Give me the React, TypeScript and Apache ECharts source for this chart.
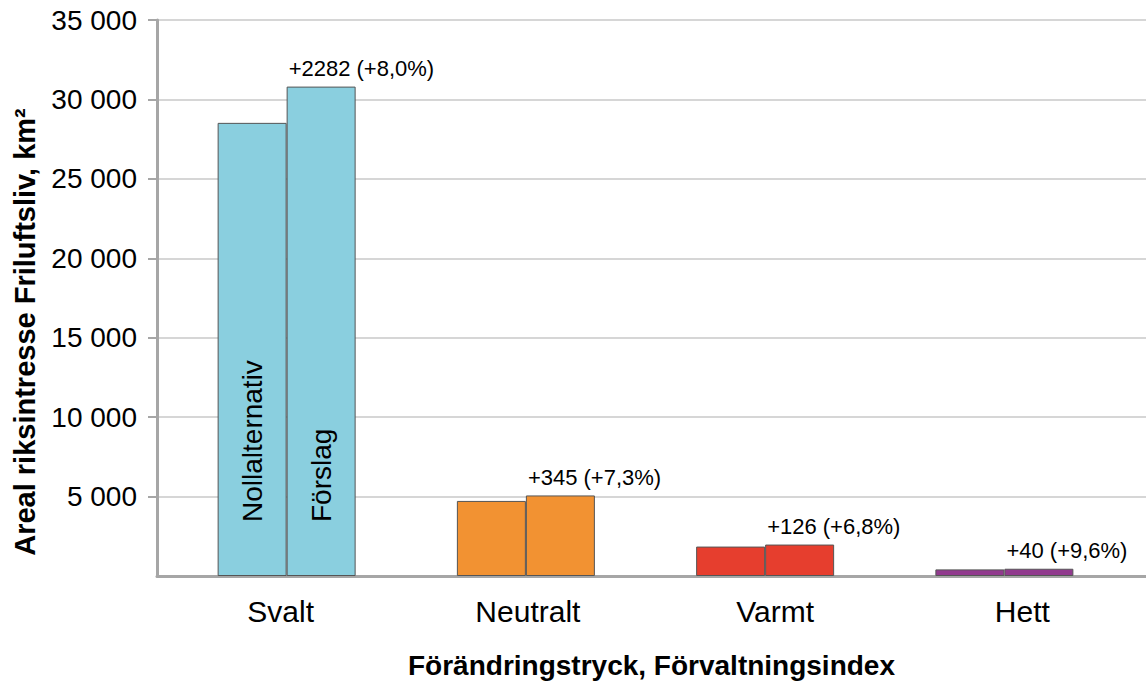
import React, { useEffect, useRef } from "react";
import * as echarts from "echarts";

const categories = ["Svalt", "Neutralt", "Varmt", "Hett"];
const nollValues = [28525, 4726, 1853, 417];
const forslagValues = [30807, 5071, 1979, 457];
const changeLabels = ["+2282 (+8,0%)", "+345 (+7,3%)", "+126 (+6,8%)", "+40 (+9,6%)"];
const barColors = ["#8ACFDF", "#F29232", "#E63E2E", "#913A8E"];
const yMax = 35000;
const yInterval = 5000;
const yTitle = "Areal riksintresse Friluftsliv, km²";
const xTitle = "Förändringstryck, Förvaltningsindex";

const FONT = "Liberation Sans, Arial, sans-serif";

export default function App() {
  const ref = useRef<HTMLDivElement>(null);
  useEffect(() => {
    if (!ref.current) return;
    const chart = echarts.init(ref.current, null, { renderer: "svg" });
    const border = { borderColor: "#555555", borderWidth: 1 };
    const innerLabel = (text: string) => ({
      show: true,
      formatter: text,
      position: "insideBottom",
      distance: 54,
      rotate: 90,
      align: "left",
      verticalAlign: "middle",
      fontSize: 28,
      fontFamily: FONT,
      color: "#000",
    });
    const nollData = nollValues.map((v, i) => ({
      value: v,
      itemStyle: { color: barColors[i], ...border },
      label: i === 0 ? innerLabel("Nollalternativ") : { show: false },
    }));
    const forslagData = forslagValues.map((v, i) => ({
      value: v,
      itemStyle: { color: barColors[i], ...border },
      label: i === 0 ? innerLabel("Förslag") : { show: false },
    }));
    const topLabelData = changeLabels.map((t) => ({
      value: 0,
      label: {
        show: true,
        formatter: t,
        position: [2, -7],
        align: "left",
        verticalAlign: "bottom",
        fontSize: 22,
        fontFamily: FONT,
        color: "#000",
      },
    }));
    chart.setOption({
      animation: false,
      textStyle: { fontFamily: FONT },
      grid: [
        { left: 157, right: 0, top: 20, bottom: 112 },
        { left: 167, right: 22, top: 20, bottom: 112 },
      ],
      graphic: [
        {
          type: "text",
          x: 25,
          y: 332,
          rotation: Math.PI / 2,
          style: {
            text: yTitle,
            fontSize: 29,
            fontWeight: "bold",
            fontFamily: FONT,
            fill: "#000",
            align: "center",
            verticalAlign: "middle",
          },
        },
      ],
      xAxis: [
        {
          type: "category",
          gridIndex: 0,
          data: categories,
          axisLine: { show: true, lineStyle: { color: "#a6a6a6", width: 3 } },
          axisTick: { show: false },
          axisLabel: { fontSize: 30, color: "#000", margin: 20, fontFamily: FONT },
          name: xTitle,
          nameLocation: "middle",
          nameGap: 75,
          nameTextStyle: { fontSize: 28, fontWeight: "bold", color: "#000", fontFamily: FONT },
        },
        {
          type: "category",
          gridIndex: 1,
          data: categories,
          axisLine: { show: false },
          axisTick: { show: false },
          axisLabel: { show: false },
        },
      ],
      yAxis: [
        {
          type: "value",
          gridIndex: 0,
          min: 0,
          max: yMax,
          interval: yInterval,
          axisLine: { show: true, lineStyle: { color: "#a6a6a6", width: 3 } },
          axisTick: { show: true, length: 9, lineStyle: { color: "#a6a6a6", width: 2 } },
          splitLine: { show: true, lineStyle: { color: "#c8c8c8", width: 1.5 } },
          axisLabel: {
            fontSize: 28,
            color: "#000",
            margin: 20,
            fontFamily: FONT,
            showMinLabel: false,
            formatter: (v: number) => String(v).replace(/\B(?=(\d{3})+(?!\d))/g, " "),
          },
        },
        {
          type: "value",
          gridIndex: 1,
          min: 0,
          max: yMax,
          interval: yInterval,
          show: false,
          splitLine: { show: false },
        },
      ],
      series: [
        {
          name: "Nollalternativ",
          type: "bar",
          xAxisIndex: 1,
          yAxisIndex: 1,
          barWidth: 69,
          barGap: "0%",
          data: nollData,
        },
        {
          name: "Förslag",
          type: "bar",
          stack: "f",
          xAxisIndex: 1,
          yAxisIndex: 1,
          barWidth: 69,
          barGap: "0%",
          data: forslagData,
        },
        {
          name: "Förändring",
          type: "bar",
          stack: "f",
          xAxisIndex: 1,
          yAxisIndex: 1,
          barWidth: 69,
          barGap: "0%",
          silent: true,
          itemStyle: { color: "transparent", borderWidth: 0 },
          data: topLabelData,
        },
      ],
    });
    return () => chart.dispose();
  }, []);
  return (
    <div
      ref={ref}
      style={{ position: "fixed", left: 0, top: 0, width: 1146, height: 688, background: "#fff" }}
    />
  );
}
